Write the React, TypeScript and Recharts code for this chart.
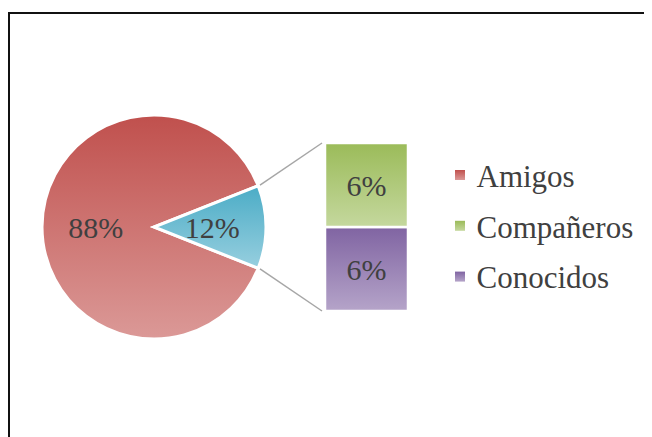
import React from 'react';
import { PieChart, Pie, Cell, BarChart, Bar, XAxis, YAxis, LabelList } from 'recharts';

const pieNames = ['Amigos', 'Otros'];
const pieValues = [88, 12];
const barNames = ['Conocidos', 'Compañeros']; // stacked bottom -> top
const barValues = [6, 6];
const legendNames = ['Amigos', 'Compañeros', 'Conocidos'];

const pieData = pieNames.map((name, i) => ({ name, value: pieValues[i] }));
const barData = [
  barNames.reduce((row: Record<string, number | string>, name, i) => {
    row[name] = barValues[i];
    return row;
  }, { name: 'Otros' }),
];

const grads: Record<string, [string, string]> = {
  Amigos: ['#C0504D', '#DB9997'],
  Otros: ['#4BACC6', '#97CFDF'],
  Compañeros: ['#9BBB59', '#C5D89E'],
  Conocidos: ['#8064A2', '#B5A4C9'],
};

const serif = "'Liberation Serif', serif";
const labelColor = '#404040';

// pie geometry (relative to the root div)
const CX = 146;
const CY = 219;
const R = 112;
const otherAngle = (pieValues[1] / 100) * 360;
const startAngle = otherAngle / 2;

// bar-of-pie box (relative to the root div)
const BAR_X = 317;
const BAR_Y = 135;
const BAR_W = 83;
const BAR_H = 168;

const gradDefs = (prefix: string) => (
  <defs>
    {Object.entries(grads).map(([k, [a, b]]) => (
      <linearGradient key={k} id={`${prefix}-${k}`} x1="0" y1="0" x2="0" y2="1">
        <stop offset="0%" stopColor={a} />
        <stop offset="100%" stopColor={b} />
      </linearGradient>
    ))}
  </defs>
);

const renderPieLabel = (props: any) => {
  const { cx, cy, midAngle, outerRadius, value } = props;
  const rad = (-midAngle * Math.PI) / 180;
  const r = outerRadius * 0.52;
  const x = cx + r * Math.cos(rad);
  const y = cy + r * Math.sin(rad);
  return (
    <text x={x} y={y} textAnchor="middle" dominantBaseline="central" fill={labelColor}
      fontFamily={serif} fontSize={30}>
      {`${value}%`}
    </text>
  );
};

export default function App() {
  const a = (startAngle * Math.PI) / 180;
  const p1 = { x: CX + (R + 2) * Math.cos(a), y: CY - (R + 2) * Math.sin(a) };
  const p2 = { x: CX + (R + 2) * Math.cos(a), y: CY + (R + 2) * Math.sin(a) };

  return (
    <div style={{ position: 'relative', width: 644, height: 429, fontFamily: serif }}>
      <div style={{ position: 'absolute', left: 0, top: 4, width: 700, height: 500, border: '2px solid #111', boxSizing: 'border-box' }} />

      <PieChart width={644} height={429} margin={{ top: 0, right: 0, bottom: 0, left: 0 }}
        style={{ position: 'absolute', left: 0, top: 0 }}>
        {gradDefs('pg')}
        <Pie
          data={pieData}
          dataKey="value"
          cx={CX}
          cy={CY}
          outerRadius={R}
          startAngle={startAngle}
          endAngle={startAngle + 360}
          stroke="#fff"
          strokeWidth={3}
          label={renderPieLabel}
          labelLine={false}
          isAnimationActive={false}
        >
          {pieData.map((d) => (
            <Cell key={d.name} fill={`url(#pg-${d.name})`} />
          ))}
        </Pie>
      </PieChart>

      <BarChart width={BAR_W} height={BAR_H} data={barData} barCategoryGap={0}
        margin={{ top: 0, right: 0, bottom: 0, left: 0 }}
        style={{ position: 'absolute', left: BAR_X, top: BAR_Y }}>
        {gradDefs('bg')}
        <XAxis dataKey="name" hide />
        <YAxis hide domain={[0, 12]} />
        {barNames.map((n) => (
          <Bar key={n} dataKey={n} stackId="s" fill={`url(#bg-${n})`} stroke="#fff" strokeWidth={2.5} isAnimationActive={false}>
            <LabelList dataKey={n} position="center" formatter={(v: any) => `${v}%`}
              fontFamily={serif} fontSize={30} fill={labelColor} />
          </Bar>
        ))}
      </BarChart>

      <svg width={644} height={429} style={{ position: 'absolute', left: 0, top: 0, pointerEvents: 'none' }}>
        {gradDefs('lg')}
        <line x1={p1.x} y1={p1.y} x2={BAR_X - 3} y2={BAR_Y} stroke="#A6A6A6" strokeWidth={1.5} />
        <line x1={p2.x} y1={p2.y} x2={BAR_X - 3} y2={BAR_Y + BAR_H} stroke="#A6A6A6" strokeWidth={1.5} />
        {legendNames.map((n, i) => (
          <g key={n}>
            <rect x={447} y={162 + i * 50.8} width={10} height={10} fill={`url(#lg-${n})`} />
            <text x={468.5} y={178.7 + i * 50.8} fill={labelColor} fontFamily={serif} fontSize={31}>{n}</text>
          </g>
        ))}
      </svg>
    </div>
  );
}
